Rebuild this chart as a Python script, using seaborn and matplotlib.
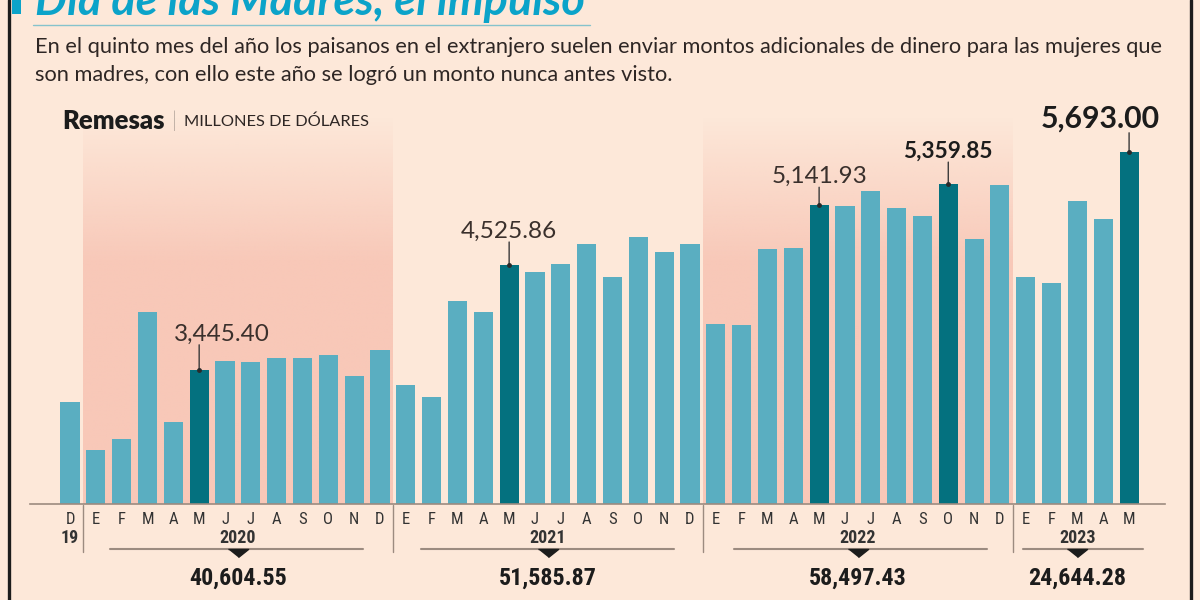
import matplotlib
matplotlib.use("Agg")
import matplotlib.pyplot as plt
import matplotlib.transforms as mtransforms
from matplotlib import font_manager
from matplotlib.lines import Line2D
from matplotlib.patches import Rectangle
import numpy as np
import pandas as pd
import seaborn as sns

BG = "#fde8d9"
SHADE = "#f8c8b8"
LIGHT = "#5aaec1"
DARK = "#04717f"
CYAN = "#0ba3c9"
INK = "#1c1c1c"
RULE = "#9c8b80"

# datos (millones de dólares)
meses = ["E", "F", "M", "A", "M", "J", "J", "A", "S", "O", "N", "D"]
valores_2019 = [3116]
valores_2020 = [2619, 2732, 4038, 2907, 3445.40, 3536, 3529, 3570, 3567, 3598, 3381, 3646]
valores_2021 = [3285, 3168, 4155, 4044, 4525.86, 4454, 4539, 4742, 4402, 4818, 4657, 4746]
valores_2022 = [3918, 3907, 4688, 4701, 5141.93, 5134, 5292, 5117, 5031, 5359.85, 4797, 5347]
valores_2023 = [4399, 4344, 5186, 4997, 5693.00]
anios = ["2020", "2021", "2022", "2023"]
totales = [40604.55, 51585.87, 58497.43, 24644.28]
# highlighted bars: May of each year and October 2022
destacados = [(2020, 5), (2021, 5), (2022, 5), (2022, 10), (2023, 5)]

etiquetas = ["D"] + meses * 3 + meses[:5]
valores = valores_2019 + valores_2020 + valores_2021 + valores_2022 + valores_2023
anio_de = [2019] + [2020] * 12 + [2021] * 12 + [2022] * 12 + [2023] * 5
mes_num = [12] + list(range(1, 13)) * 3 + list(range(1, 6))
n = len(valores)

df = pd.DataFrame({"pos": range(n), "valor": valores, "anio": anio_de, "mes": mes_num})
df["tipo"] = ["destacado" if (a, m) in destacados else "normal"
              for a, m in zip(df["anio"], df["mes"])]

installed = {f.name for f in font_manager.fontManager.ttflist}


def pick(*names):
    for name in names:
        if name in installed:
            return name
    return "DejaVu Sans"


NARROW = pick("Liberation Sans Narrow", "Roboto Condensed", "DejaVu Sans")
SANS = pick("Lato", "Open Sans", "DejaVu Sans")

sns.set_style("white")

fig = plt.figure(figsize=(12, 6), dpi=100, facecolor=BG)
ax = fig.add_axes([30 / 1200, 96 / 600, 1135 / 1200, 404 / 600])
ax.set_facecolor(BG)
renderer = fig.canvas.get_renderer()


def fy(px):
    return 1 - px / 600


def fit(t, width_px):
    w = t.get_window_extent(renderer).width
    t.set_fontsize(t.get_fontsize() * width_px / w)
    return t


YMIN, YMAX = 2062, 6227
XMIN, XMAX = -1.549, 42.39
shade_top = 6052

# shaded year bands with soft top edge
alpha = np.clip(np.linspace(0, 1, 200) / 0.38, 0, 1)
grad = np.zeros((200, 1, 4))
grad[:, 0, :3] = matplotlib.colors.to_rgb(SHADE)
grad[:, 0, 3] = alpha
for x0, x1 in [(0.5, 12.5), (24.5, 36.5)]:
    ax.imshow(grad, extent=(x0, x1, YMIN, shade_top), aspect="auto",
              origin="upper", zorder=0.5, interpolation="bilinear")

sns.barplot(data=df, x="pos", y="valor", hue="tipo",
            palette={"normal": LIGHT, "destacado": DARK},
            dodge=False, width=0.74, saturation=1, legend=False, ax=ax, zorder=2,
            edgecolor="none", linewidth=0)

# annotations over highlighted bars
notas = {
    5: (-25, 25, "normal", 96, "left"),
    17: (0, 23, "normal", 96, "center"),
    29: (0, 18, "normal", 96, "center"),
    34: (0, 22, "bold", 90, "center"),
    41: (-29, 19, "bold", 120, "center"),
}
for i, (dx, gap, weight, width, ha) in notas.items():
    v = valores[i]
    ax.annotate("", xy=(i, v), xytext=(0, gap), textcoords="offset pixels",
                arrowprops=dict(arrowstyle="-", color="#3a3a3a", lw=1, shrinkA=0, shrinkB=0),
                zorder=3)
    ax.plot([i], [v], marker="o", markersize=2.5, color="#2a2a2a", zorder=4)
    t = ax.annotate(f"{v:,.2f}", xy=(i, v), xytext=(dx, gap), textcoords="offset pixels",
                    ha=ha, va="bottom", fontsize=17, fontweight=weight,
                    family=SANS, color="#3a302c" if weight == "normal" else INK, zorder=5)
    fit(t, width)

ax.set_xticks(range(n))
ax.set_xticklabels(etiquetas, family=NARROW, fontsize=12, color="#333333")
ax.tick_params(axis="x", length=0, pad=6)
ax.set_yticks([])
ax.set_xlabel("")
ax.set_ylabel("")
for side in ["top", "right", "left"]:
    ax.spines[side].set_visible(False)
ax.spines["bottom"].set_color(RULE)
ax.spines["bottom"].set_linewidth(1.2)

blend = mtransforms.blended_transform_factory(ax.transData, fig.transFigure)

for xs in [0.5, 12.5, 24.5, 36.5]:
    fig.add_artist(Line2D([xs, xs], [fy(505), fy(552)], transform=blend, color=RULE, lw=1))

ax.text(0, fy(538), "19", transform=blend, ha="center", va="center",
        family=NARROW, fontsize=13, fontweight="bold", color="#333333")

centros = [6.5, 18.5, 30.5, 39.0]
tramos = [(1.55, 11.35), (13.6, 23.4), (25.7, 35.5), (36.9, 41.55)]
tri = [(-1, 0.4), (1, 0.4), (0, -0.4)]
for anio, total, c, (a, b) in zip(anios, totales, centros, tramos):
    ax.text(c, fy(538), anio, transform=blend, ha="center", va="center",
            family=NARROW, fontsize=13, fontweight="bold", color="#333333")
    fig.add_artist(Line2D([a, b], [fy(549), fy(549)], transform=blend, color=RULE, lw=1.5))
    fig.add_artist(Line2D([c], [fy(553)], transform=blend, marker=tri, markersize=14.5,
                          color=INK, lw=0))
    t = ax.text(c, fy(578), f"{total:,.2f}", transform=blend, ha="center", va="center",
                family=NARROW, fontsize=20, fontweight="bold", color=INK)
    fit(t, 98)

# header
title = fig.text(35 / 1200, fy(15), "Día de las Madres, el impulso", family=SANS,
                 fontsize=30, fontweight="bold", style="italic", color=CYAN, va="baseline")
fit(title, 550)
fig.add_artist(Rectangle((12 / 1200, fy(14)), 9 / 1200, 14 / 600, transform=fig.transFigure,
                         color=CYAN, lw=0))
fig.add_artist(Line2D([33 / 1200, 590 / 1200], [fy(25), fy(25)], transform=fig.transFigure,
                      color="#86c3cc", lw=1))

linea1 = ("En el quinto mes del año los paisanos en el extranjero suelen enviar montos "
          "adicionales de dinero para las mujeres que")
linea2 = "son madres, con ello este año se logró un monto nunca antes visto."
t1 = fig.text(35 / 1200, fy(47), linea1, family=SANS, fontweight="normal", fontsize=14,
              color="#2e2624", va="center")
fit(t1, 1128)
t2 = fig.text(35 / 1200, fy(75), linea2, family=SANS, fontweight="normal",
              fontsize=t1.get_fontsize(), color="#2e2624", va="center")

r = fig.text(62 / 1200, fy(121), "Remesas", family=SANS, fontweight="heavy", fontsize=15,
             color=INK, va="center")
fit(r, 103)
fig.text(172 / 1200, fy(121), "|", family=SANS, fontweight="light", fontsize=15,
         color=INK, va="center")
u = fig.text(184 / 1200, fy(122), "MILLONES DE DÓLARES", family=SANS, fontweight="normal",
             fontsize=12, color="#2e2624", va="center")
fit(u, 184)

# frame borders
fig.add_artist(Line2D([9 / 1200, 9 / 1200], [0, 1], transform=fig.transFigure, color=INK, lw=2.4))
fig.add_artist(Line2D([1191 / 1200, 1191 / 1200], [0, 1], transform=fig.transFigure,
                      color=INK, lw=2.4))

ax.set_xlim(XMIN, XMAX)
ax.set_ylim(YMIN, YMAX)

fig.savefig("out.png", dpi=100, facecolor=BG)
